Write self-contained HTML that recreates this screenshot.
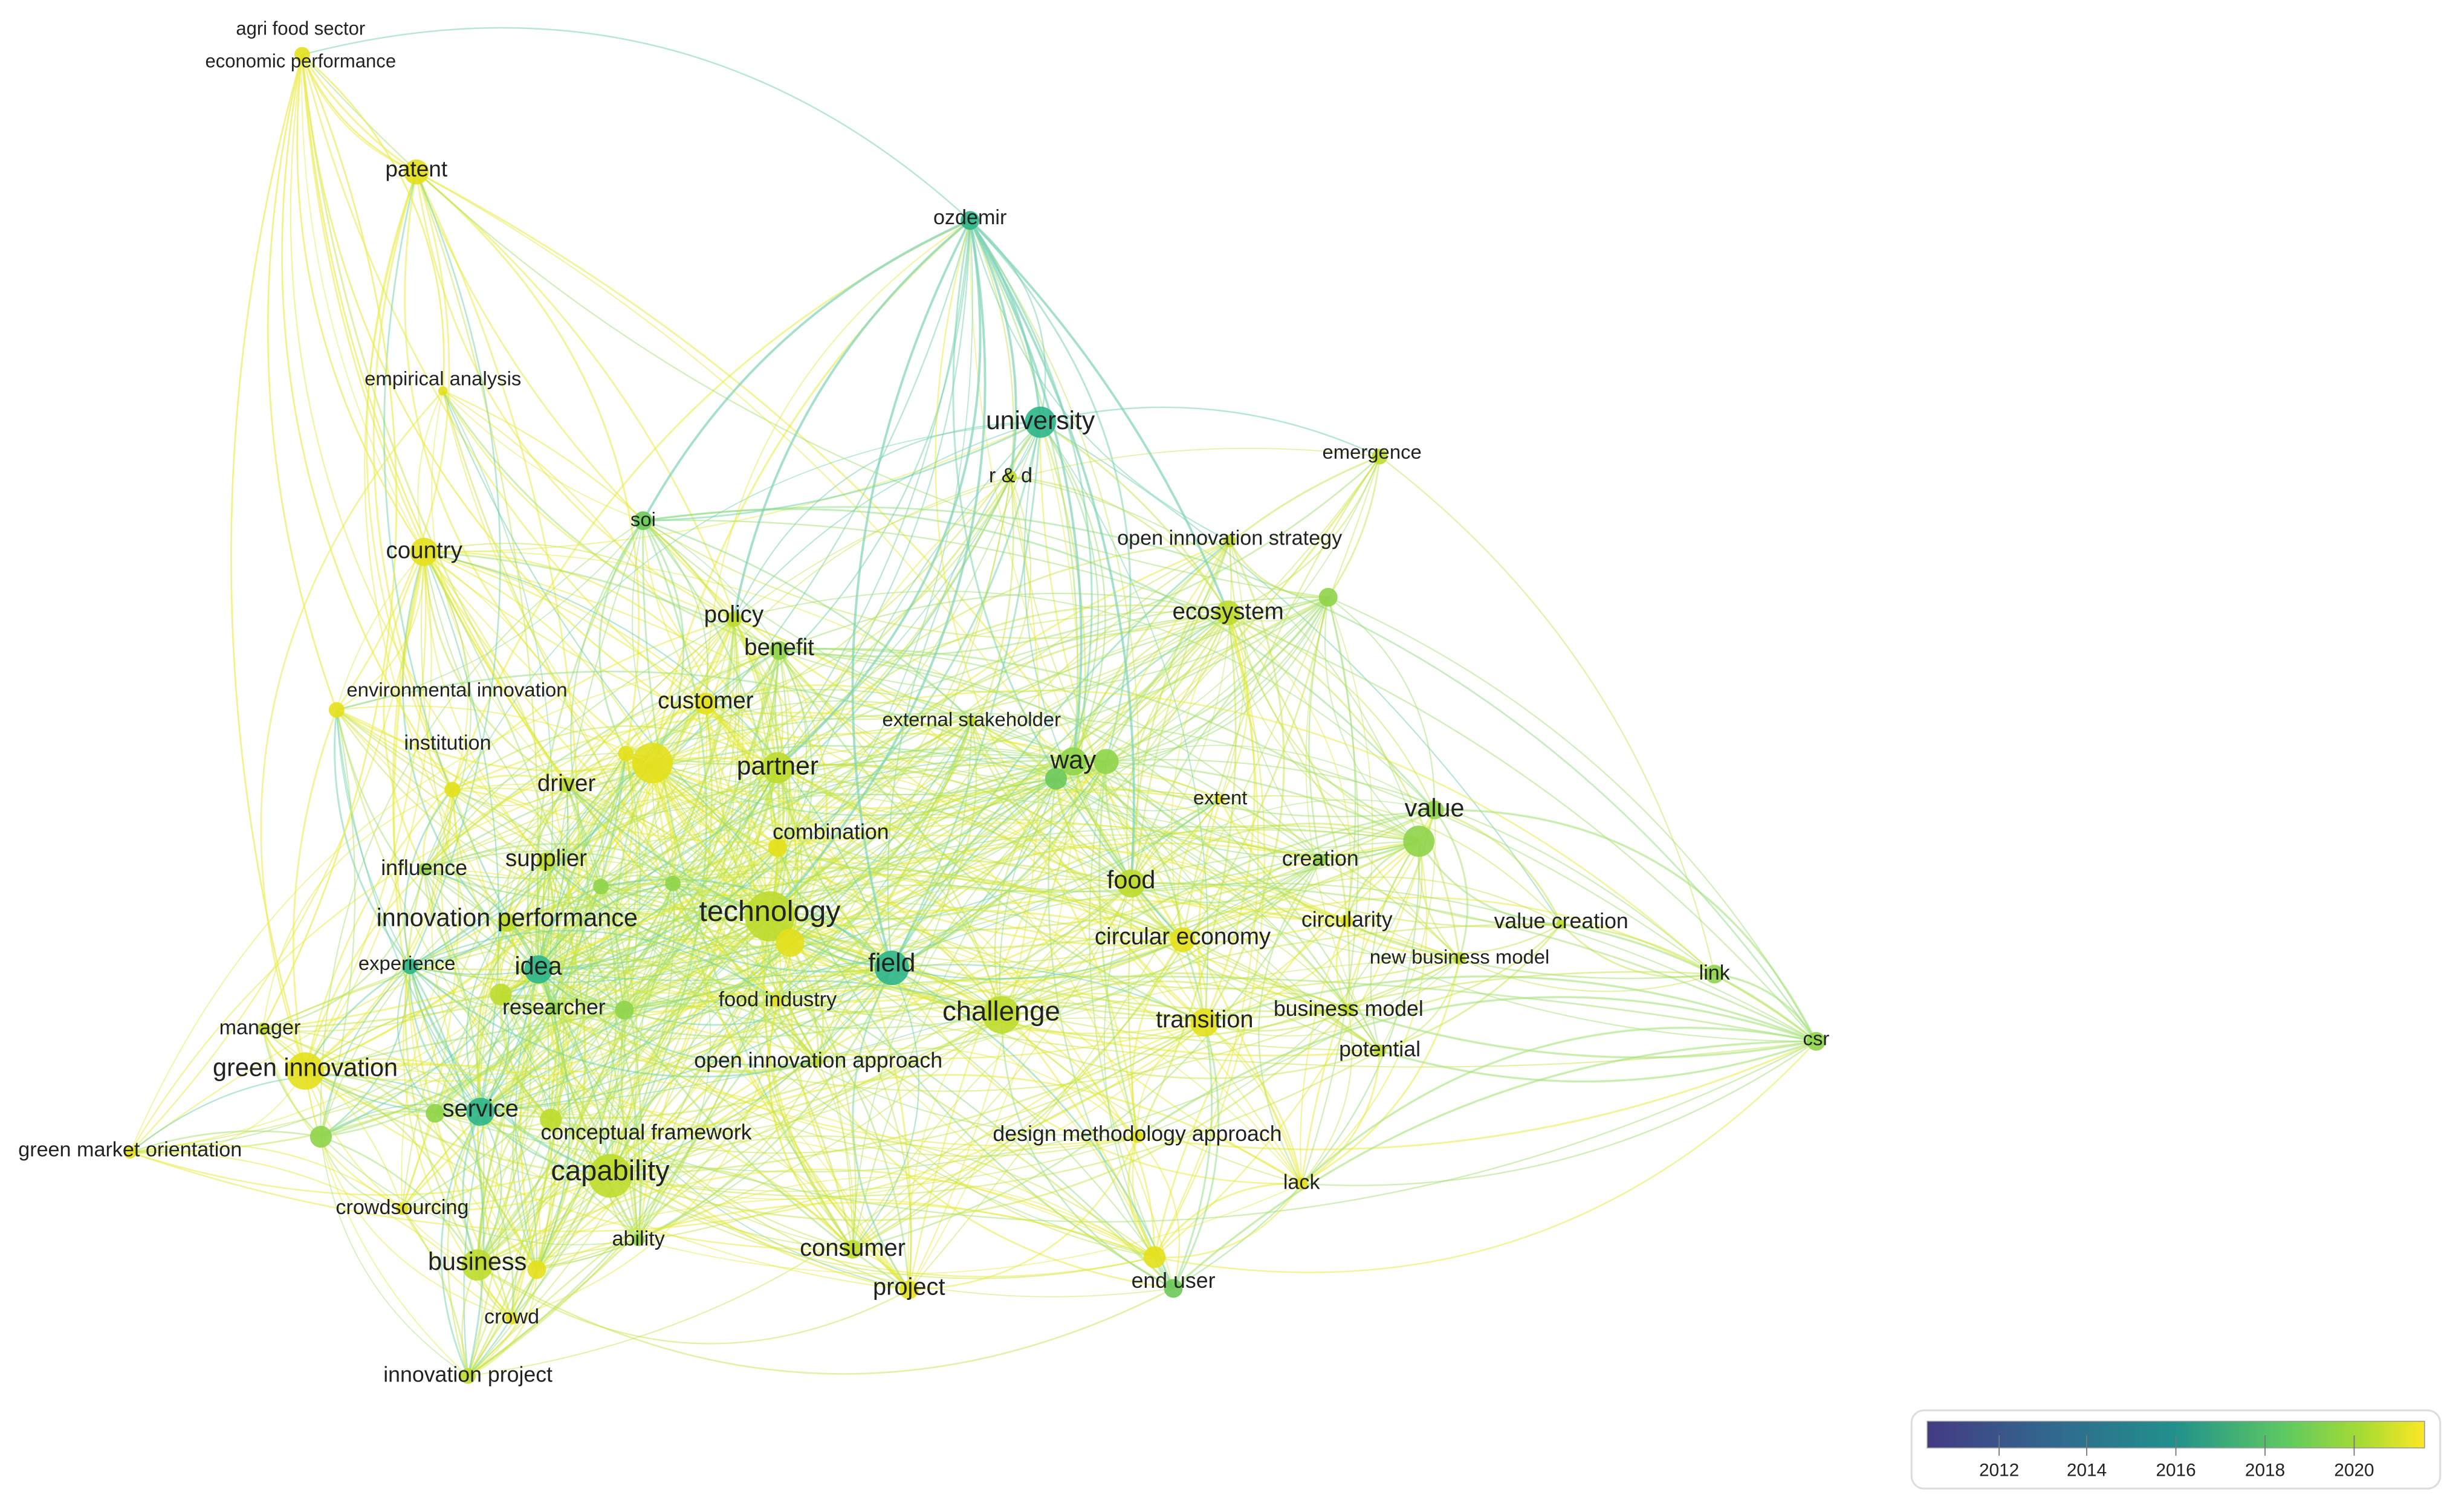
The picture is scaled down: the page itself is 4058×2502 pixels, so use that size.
<!DOCTYPE html>
<html><head><meta charset="utf-8">
<style>
html,body{margin:0;padding:0;background:#fff;width:4058px;height:2502px;overflow:hidden}
svg{display:block}
text{font-family:"Liberation Sans",sans-serif;fill:#222;text-anchor:middle;dominant-baseline:middle}
</style></head>
<body>
<svg id="s" width="4058" height="2502" viewBox="0 0 1568 967" xmlns="http://www.w3.org/2000/svg">
<defs>
<linearGradient id="vir" x1="0" x2="1" y1="0" y2="0">
<stop offset="0" stop-color="#443a83"/>
<stop offset="0.25" stop-color="#31688e"/>
<stop offset="0.5" stop-color="#21918c"/>
<stop offset="0.72" stop-color="#5ec962"/>
<stop offset="0.88" stop-color="#aadc32"/>
<stop offset="1" stop-color="#fde725"/>
</linearGradient>
</defs>
<g id="edges" fill="none"></g>
<g id="nodes"></g>
<g id="labels"></g>
<g id="legend">
<rect x="1222" y="902" width="338" height="50" rx="8" fill="#fff" stroke="#ddd" stroke-width="1.2"/>
<rect x="1232" y="909" width="318" height="17" fill="url(#vir)" stroke="#999" stroke-width="0.6"/>
<g stroke="#777" stroke-width="0.7">
<line x1="1278" y1="918" x2="1278" y2="931"/><line x1="1334" y1="918" x2="1334" y2="931"/>
<line x1="1391" y1="918" x2="1391" y2="931"/><line x1="1448" y1="918" x2="1448" y2="931"/>
<line x1="1505" y1="918" x2="1505" y2="931"/></g>
<g font-size="11.5" style="fill:#555">
<text x="1278" y="941">2012</text><text x="1334" y="941">2014</text><text x="1391" y="941">2016</text>
<text x="1448" y="941">2018</text><text x="1505" y="941">2020</text></g>
</g>
</svg>
<script>
var Y='#e4e01c',YG='#bedb2e',G='#8fd44a',GG='#6cc95a',T='#2db58a';
var N=[
[193,35,5,Y,'',0,0,0],
[266,110,8,Y,'patent',266,109,13],
[620,141,6,T,'ozdemir',620,140,12],
[283,250,3,Y,'empirical analysis',283,243,11.5],
[665,270,10,T,'university',665,270,15],
[646,305,4,YG,'r & d',646,305,12],
[882,292,5,YG,'emergence',877,290,11.5],
[411,333,6,GG,'soi',411,333,11.5],
[271,353,9,Y,'country',271,353,13.5],
[786,346,4,YG,'open innovation strategy',786,345,12],
[849,382,6,G,'',0,0,0],
[469,396,5,YG,'policy',469,394,13.5],
[785,392,8,YG,'ecosystem',785,392,13.5],
[498,416,6,G,'benefit',498,415,13.5],
[215,454,5,Y,'environmental innovation',292,442,11.5],
[451,450,7,Y,'customer',451,449,13.5],
[289,505,5,Y,'institution',286,476,12],
[621,461,3,YG,'external stakeholder',621,461,11.5],
[686,487,9,G,'way',686,487,15],
[707,487,8,G,'',0,0,0],[675,498,7,GG,'',0,0,0],
[497,491,10,YG,'partner',497,491,15],
[417,488,13,Y,'',0,0,0],[400,482,5,Y,'',0,0,0],
[362,502,5,YG,'driver',362,502,13.5],
[780,511,3,Y,'extent',780,511,11.5],
[917,518,6,G,'value',917,518,14.5],[907,538,10,G,'',0,0,0],
[497,542,6,Y,'combination',531,533,12.5],
[844,550,4,G,'creation',844,550,12.5],
[349,551,6,YG,'supplier',349,550,13.5],
[384,567,5,G,'',0,0,0],[430,565,5,G,'',0,0,0],
[271,556,4,G,'influence',271,556,12.5],
[723,565,9,YG,'food',723,564,14.5],
[492,586,16,YG,'technology',492,584,17],
[505,603,9,Y,'',0,0,0],
[324,590,6,YG,'innovation performance',324,588,14.5],
[861,589,4,Y,'circularity',861,589,12.5],
[998,591,3,YG,'value creation',998,590,12.5],
[570,619,11,T,'field',570,617,15],
[756,601,8,Y,'circular economy',756,600,13.5],
[933,613,4,YG,'new business model',933,613,11.5],
[262,618,5,T,'experience',260,617,11.5],
[344,620,9,T,'idea',344,619,14.5],
[1096,623,6,G,'link',1096,623,12],
[497,640,4,Y,'food industry',497,640,12],
[320,636,7,YG,'',0,0,0],[399,646,6,G,'',0,0,0],
[354,645,4,G,'researcher',354,645,12.5],
[640,649,12,YG,'challenge',640,648,16],
[770,654,9,Y,'transition',770,653,14],
[862,646,4,YG,'business model',862,646,12.5],
[1161,666,6,G,'csr',1161,665,11.5],
[168,658,4,YG,'manager',166,658,12],
[882,672,4,YG,'potential',882,672,12.5],
[523,679,3,YG,'open innovation approach',523,679,12.5],
[195,685,12,Y,'green innovation',195,684,14.5],
[307,711,9,T,'service',307,710,14],[278,712,6,G,'',0,0,0],
[352,716,7,YG,'conceptual framework',413,725,12.5],
[727,727,4,Y,'design methodology approach',727,726,12.5],
[205,727,7,G,'',0,0,0],
[83,737,4,Y,'green market orientation',83,736,12],
[390,752,14,YG,'capability',390,750,16.5],
[832,757,4,Y,'lack',832,757,12],
[257,773,4,Y,'crowdsourcing',257,773,12],
[408,793,4,G,'ability',408,793,12],
[545,799,6,YG,'consumer',545,799,14],
[305,809,10,YG,'business',305,808,14.5],[343,812,6,Y,'',0,0,0],
[738,804,7,Y,'',0,0,0],[750,824,6,GG,'end user',750,820,12.5],
[581,825,6,Y,'project',581,824,14],
[327,843,4,Y,'crowd',327,843,12],
[299,880,5,YG,'innovation project',299,880,12.5]
];
var ns='http://www.w3.org/2000/svg';
var E=document.getElementById('edges'),ND=document.getElementById('nodes'),L=document.getElementById('labels');
function byName(s){for(var i=0;i<N.length;i++)if(N[i][4]===s)return N[i];return null;}
var seed=12345;function rnd(){seed=(seed*16807)%2147483647;return (seed-1)/2147483646;}
function path(a,b,col,w,op){
 if(!a||!b)return;
 var dx=b[0]-a[0],dy=b[1]-a[1],d=Math.sqrt(dx*dx+dy*dy);if(d<3)return;
 var k=(rnd()<0.5?1:-1)*(0.1+0.22*rnd());
 var cx=(a[0]+b[0])/2-dy*k,cy=(a[1]+b[1])/2+dx*k;
 var p=document.createElementNS(ns,'path');
 p.setAttribute('d','M'+a[0]+' '+a[1]+'Q'+cx.toFixed(1)+' '+cy.toFixed(1)+' '+b[0]+' '+b[1]);
 p.setAttribute('stroke',col);p.setAttribute('stroke-width',w);p.setAttribute('stroke-opacity',op);E.appendChild(p);
}
var ecol={};ecol[Y]='#e6ea30';ecol[YG]='#c6e448';ecol[G]='#a2e070';ecol[GG]='#8edc80';ecol[T]='#6cd0a8';
try{
for(var r=0;r<2;r++)
for(var i=0;i<N.length;i++)for(var j=i+1;j<N.length;j++){
 var a=N[i],b=N[j];var dx=a[0]-b[0],dy=a[1]-b[1],d=Math.sqrt(dx*dx+dy*dy);
 var p=0.7*Math.min(0.9,(a[2]+b[2])/22)*Math.max(0.12,1-d/650);
 if(rnd()<p){var c=rnd()<0.5?ecol[a[3]]:ecol[b[3]];path(a,b,c,0.6+rnd()*0.6,0.5);}
}
var oz=N[2];['university','r & d','way','field','food','ecosystem','partner','technology','policy','soi'].forEach(function(k){path(oz,byName(k),'#7fd3b8',1.5,0.7);});
['patent','country','empirical analysis','environmental innovation','institution','driver','green innovation','manager','partner'].forEach(function(k){path(N[0],byName(k),'#ecec50',1.0,0.7);});
var csr=byName('csr');['link','value','value creation','lack','end user','design methodology approach','transition','potential','business model'].forEach(function(k){path(csr,byName(k),'#a6e27c',1.3,0.6);});
}catch(e){}
N.forEach(function(n){
 var c=document.createElementNS(ns,'circle');c.setAttribute('cx',n[0]);c.setAttribute('cy',n[1]);c.setAttribute('r',n[2]);
 c.setAttribute('fill',n[3]);c.setAttribute('fill-opacity','0.9');ND.appendChild(c);
 if(n[4]){var t=document.createElementNS(ns,'text');t.setAttribute('x',n[5]);t.setAttribute('y',n[6]);
 t.setAttribute('font-size',(n[7]*1.1).toFixed(1));t.textContent=n[4];L.appendChild(t);}
});
[['agri food sector',192,19,12],['economic performance',192,40,12]].forEach(function(q){
 var t=document.createElementNS(ns,'text');t.setAttribute('x',q[1]);t.setAttribute('y',q[2]);t.setAttribute('font-size',q[3]);t.textContent=q[0];L.appendChild(t);});
</script>
</body></html>
